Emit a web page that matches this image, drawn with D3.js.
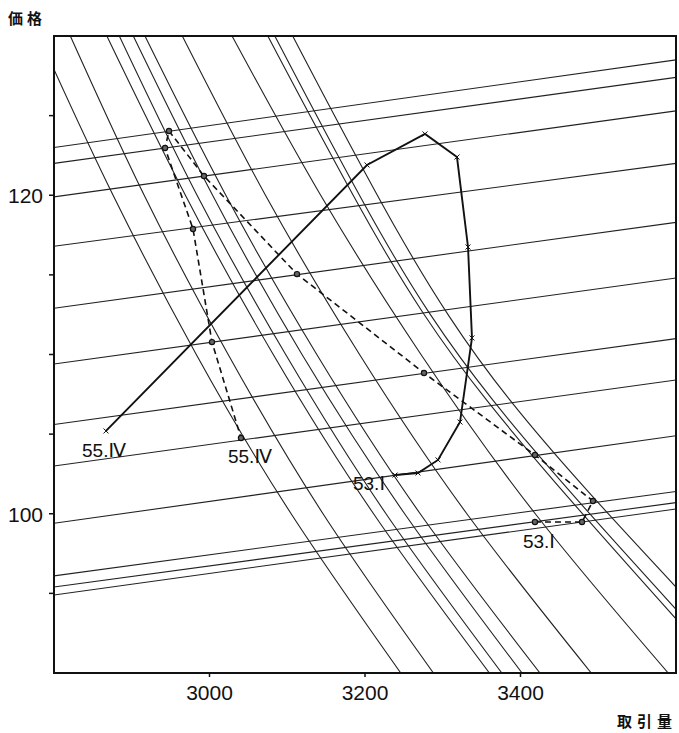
<!DOCTYPE html>
<html>
<head>
<meta charset="utf-8">
<script src="https://cdn.jsdelivr.net/npm/d3@7"></script>
<style>
  body { margin: 0; background: #fff; }
</style>
</head>
<body>
<div id="chart"></div>
<script>
var xTicks = [3000, 3200, 3400];
var yTicks = [95, 100, 105, 110, 115, 120, 125];
var yLabelTicks = [100, 120];

// the flat lines: price at the left edge (2800) and at the right edge (3600)
var flatLeft = [123.0, 122.0, 119.9, 116.8, 112.9, 109.4, 105.6, 103.0, 99.4, 96.1, 95.4, 94.9];
var flatRight = [128.5, 127.4, 125.3, 122.0, 118.3, 114.8, 111.0, 108.4, 104.9, 101.4, 100.7, 100.3];

// the steep curves, [quantity, price] read at a few price levels
var steepCurves = [
  [[2800, 127.9], [2876, 120], [2983, 110], [3105, 100], [3246, 90]],
  [[2821, 130], [2916, 120], [3024, 110], [3146, 100], [3288, 90]],
  [[2868, 130], [2969, 120], [3082, 110], [3211, 100], [3360, 90]],
  [[2884, 130], [2984, 120], [3098, 110], [3227, 100], [3376, 90]],
  [[2902, 130], [3004, 120], [3119, 110], [3251, 100], [3402, 90]],
  [[2917, 130], [3021, 120], [3138, 110], [3271, 100], [3425, 90]],
  [[2965, 130], [3072, 120], [3193, 110], [3331, 100], [3491, 90]],
  [[3029, 130], [3143, 120], [3272, 110], [3419, 100], [3590, 90]],
  [[3075, 130], [3210, 117.8], [3357, 107.1], [3600, 93.4]],
  [[3084, 130], [3218, 117.8], [3365, 107.1], [3600, 94.0]],
  [[3107, 130], [3241, 117.8], [3387, 107.1], [3600, 95.4]]
];

// solid path, 53.I -> 55.IV
var solidQ = [3238.6, 3268.2, 3293.9, 3322.2, 3337.6, 3332.5, 3318.3, 3277.2, 3202.6, 2866.9];
var solidP = [102.43, 102.56, 103.38, 105.76, 111.04, 116.75, 122.40, 123.85, 121.90, 105.20];

// dashed path, 53.I -> 55.IV
var dashQ = [3418.6, 3479.1, 3493.2, 3418.6, 3275.9, 3112.5, 2992.9, 2947.9, 2942.8, 2978.8, 3003.2, 3040.5];
var dashP = [99.48, 99.48, 100.80, 103.69, 108.84, 115.05, 121.21, 124.03, 122.97, 117.88, 110.78, 104.76];

var W = 679, H = 733;
var mLeft = 54, mRight = 676, mTop = 36, mBottom = 673;

var svg = d3.select('#chart').append('svg')
  .attr('width', W)
  .attr('height', H)
  .style('font-family', 'Liberation Sans, DejaVu Sans, sans-serif');

var x = d3.scaleLinear().domain([2800, 3600]).range([mLeft, mRight]);
var y = d3.scaleLinear().domain([90, 130]).range([mBottom, mTop]);

svg.append('clipPath').attr('id', 'plot')
  .append('rect')
  .attr('x', mLeft).attr('y', mTop)
  .attr('width', mRight - mLeft).attr('height', mBottom - mTop);

var plot = svg.append('g').attr('clip-path', 'url(#plot)');

// flat lines
plot.selectAll('line.flat')
  .data(flatLeft)
  .enter().append('line')
  .attr('class', 'flat')
  .attr('x1', x(2800))
  .attr('y1', function(d) { return y(d); })
  .attr('x2', x(3600))
  .attr('y2', function(d, i) { return y(flatRight[i]); })
  .style('stroke', '#222')
  .style('stroke-width', 1.1);

var curveLine = d3.line()
  .x(function(d) { return x(d[0]); })
  .y(function(d) { return y(d[1]); })
  .curve(d3.curveNatural);

plot.selectAll('path.steep')
  .data(steepCurves)
  .enter().append('path')
  .attr('class', 'steep')
  .attr('d', curveLine)
  .style('fill', 'none')
  .style('stroke', '#222')
  .style('stroke-width', 1.1);

// solid path
var solidPts = solidQ.map(function(q, i) { return [q, solidP[i]]; });
var pathLine = d3.line()
  .x(function(d) { return x(d[0]); })
  .y(function(d) { return y(d[1]); });

plot.append('path')
  .datum(solidPts)
  .attr('d', pathLine)
  .style('fill', 'none')
  .style('stroke', '#111')
  .style('stroke-width', 1.9);

plot.selectAll('path.cross')
  .data(solidPts)
  .enter().append('path')
  .attr('class', 'cross')
  .attr('d', function(d) {
    var cx = x(d[0]), cy = y(d[1]), s = 2.5;
    return 'M' + (cx - s) + ',' + (cy - s) + 'L' + (cx + s) + ',' + (cy + s) +
      'M' + (cx - s) + ',' + (cy + s) + 'L' + (cx + s) + ',' + (cy - s);
  })
  .style('stroke', '#111')
  .style('stroke-width', 1);

// dashed path
var dashPts = dashQ.map(function(q, i) { return [q, dashP[i]]; });
plot.append('path')
  .datum(dashPts)
  .attr('d', pathLine)
  .style('fill', 'none')
  .style('stroke', '#111')
  .style('stroke-width', 1.6)
  .style('stroke-dasharray', '6,4');

plot.selectAll('circle.dot')
  .data(dashPts)
  .enter().append('circle')
  .attr('class', 'dot')
  .attr('cx', function(d) { return x(d[0]); })
  .attr('cy', function(d) { return y(d[1]); })
  .attr('r', 2.6)
  .style('fill', '#666')
  .style('stroke', '#111')
  .style('stroke-width', 1.2);

// frame
svg.append('rect')
  .attr('x', mLeft).attr('y', mTop)
  .attr('width', mRight - mLeft).attr('height', mBottom - mTop)
  .style('fill', 'none')
  .style('stroke', '#111')
  .style('stroke-width', 2);

// ticks
svg.selectAll('line.xtick')
  .data(xTicks)
  .enter().append('line')
  .attr('class', 'xtick')
  .attr('x1', function(d) { return x(d); })
  .attr('x2', function(d) { return x(d); })
  .attr('y1', mBottom).attr('y2', mBottom + 4)
  .style('stroke', '#111').style('stroke-width', 1.5);

svg.selectAll('text.xlab')
  .data(xTicks)
  .enter().append('text')
  .attr('class', 'xlab')
  .attr('x', function(d) { return x(d); })
  .attr('y', mBottom + 27)
  .attr('text-anchor', 'middle')
  .style('font-size', '21px')
  .style('fill', '#111')
  .text(function(d) { return d; });

svg.selectAll('line.ytick')
  .data(yTicks)
  .enter().append('line')
  .attr('class', 'ytick')
  .attr('x1', mLeft - 5).attr('x2', mLeft)
  .attr('y1', function(d) { return y(d); })
  .attr('y2', function(d) { return y(d); })
  .style('stroke', '#111').style('stroke-width', 1.5);

svg.selectAll('text.ylab')
  .data(yLabelTicks)
  .enter().append('text')
  .attr('class', 'ylab')
  .attr('x', mLeft - 11)
  .attr('y', function(d) { return y(d) + 8; })
  .attr('text-anchor', 'end')
  .style('font-size', '21px')
  .style('fill', '#111')
  .text(function(d) { return d; });

// axis titles
svg.append('text')
  .attr('x', 8).attr('y', 24)
  .style('font-family', 'Noto Sans CJK JP')
  .style('font-size', '15px')
  .style('font-weight', 'bold')
  .style('letter-spacing', '4px')
  .style('fill', '#111')
  .text('価格');

svg.append('text')
  .attr('x', 677).attr('y', 727)
  .attr('text-anchor', 'end')
  .style('font-family', 'Noto Sans CJK JP')
  .style('font-size', '15px')
  .style('font-weight', 'bold')
  .style('letter-spacing', '5px')
  .style('fill', '#111')
  .text('取引量');

// period labels
var labels = [
  {text: '55.Ⅳ', p: solidPts[solidPts.length - 1], dx: -24, dy: 26, anchor: 'start'},
  {text: '55.Ⅳ', p: dashPts[dashPts.length - 1], dx: -13, dy: 25, anchor: 'start'},
  {text: '53.Ⅰ', p: solidPts[0], dx: -10, dy: 15, anchor: 'end'},
  {text: '53.Ⅰ', p: dashPts[0], dx: -12, dy: 26, anchor: 'start'}
];

svg.selectAll('text.period')
  .data(labels)
  .enter().append('text')
  .attr('class', 'period')
  .attr('x', function(d) { return x(d.p[0]) + d.dx; })
  .attr('y', function(d) { return y(d.p[1]) + d.dy; })
  .attr('text-anchor', function(d) { return d.anchor; })
  .style('font-size', '19px')
  .style('fill', '#111')
  .text(function(d) { return d.text; });
</script>
</body>
</html>
